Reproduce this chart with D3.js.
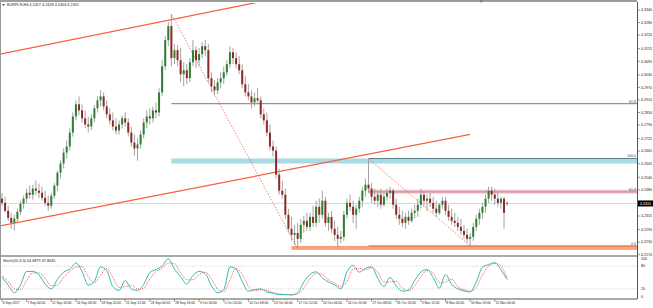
<!DOCTYPE html>
<html>
<head>
<meta charset="utf-8">
<script src="https://cdn.jsdelivr.net/npm/d3@7/dist/d3.min.js"></script>
<style>
  body { margin: 0; background: #fff; }
  svg { display: block; font-family: "Liberation Sans", Arial, sans-serif; }
</style>
</head>
<body>
<svg id="chart" width="653" height="308"></svg>
<script>
// ---- data ----
const symbolTitle = "EURPLN,H4 4.2417 4.2428 4.2404 4.2415";
const stochTitle = "Stoch(10,3,3) 44.6879 47.8045";
const lastPrice = 4.2415;

const priceTicks = [4.3340, 4.3280, 4.3220, 4.3155, 4.3095, 4.3030, 4.2970, 4.2910, 4.2850, 4.2790,
  4.2725, 4.2665, 4.2605, 4.2540, 4.2480, 4.2355, 4.2290, 4.2230, 4.2170];

const timeLabels = ["4 Sep 2017", "7 Sep 04:00", "11 Sep 16:00", "14 Sep 08:00", "18 Sep 20:00",
  "21 Sep 12:00", "26 Sep 00:00", "28 Sep 16:00", "3 Oct 04:00", "5 Oct 20:00", "10 Oct 08:00",
  "13 Oct 00:00", "17 Oct 12:00", "20 Oct 04:00", "24 Oct 16:00", "27 Oct 08:00", "31 Oct 20:00",
  "3 Nov 12:00", "8 Nov 00:00", "10 Nov 16:00", "15 Nov 04:00"];
const timeLabelBars = [0, 8, 16, 24, 32, 40, 48, 56, 64, 72, 80, 88, 96, 104, 112, 120, 128, 136, 144, 152, 160];

// open, high, low, close
const ohlc = [
  [4.2438,4.2466,4.2404,4.2418],[4.2418,4.2447,4.2370,4.2380],[4.2380,4.2404,4.2332,4.2346],[4.2346,4.2370,4.2294,4.2322],
  [4.2322,4.2361,4.2284,4.2342],[4.2342,4.2390,4.2322,4.2375],[4.2375,4.2428,4.2361,4.2414],[4.2414,4.2452,4.2390,4.2438],
  [4.2438,4.2486,4.2418,4.2466],[4.2466,4.2500,4.2438,4.2457],[4.2457,4.2505,4.2433,4.2486],[4.2486,4.2524,4.2457,4.2476],
  [4.2476,4.2510,4.2442,4.2466],[4.2466,4.2495,4.2428,4.2442],[4.2442,4.2476,4.2404,4.2418],[4.2418,4.2452,4.2380,4.2404],
  [4.2404,4.2466,4.2390,4.2452],[4.2452,4.2514,4.2438,4.2500],[4.2500,4.2572,4.2476,4.2562],[4.2562,4.2620,4.2534,4.2606],
  [4.2606,4.2678,4.2582,4.2658],[4.2658,4.2716,4.2630,4.2687],[4.2687,4.2774,4.2668,4.2754],[4.2754,4.2850,4.2735,4.2831],
  [4.2831,4.2908,4.2812,4.2889],[4.2889,4.2927,4.2836,4.2860],[4.2860,4.2889,4.2802,4.2822],[4.2822,4.2860,4.2774,4.2793],
  [4.2793,4.2831,4.2754,4.2783],[4.2783,4.2841,4.2764,4.2822],[4.2822,4.2884,4.2802,4.2870],[4.2870,4.2927,4.2850,4.2908],
  [4.2908,4.2956,4.2879,4.2927],[4.2927,4.2946,4.2860,4.2879],[4.2879,4.2908,4.2822,4.2841],[4.2841,4.2870,4.2793,4.2812],
  [4.2812,4.2850,4.2764,4.2783],[4.2783,4.2822,4.2745,4.2764],[4.2764,4.2812,4.2745,4.2793],[4.2793,4.2836,4.2774,4.2822],
  [4.2822,4.2850,4.2783,4.2802],[4.2802,4.2822,4.2735,4.2754],[4.2754,4.2783,4.2687,4.2706],[4.2706,4.2745,4.2644,4.2678],
  [4.2678,4.2726,4.2620,4.2697],[4.2697,4.2764,4.2678,4.2745],[4.2745,4.2822,4.2726,4.2802],[4.2802,4.2860,4.2774,4.2831],
  [4.2831,4.2870,4.2793,4.2822],[4.2822,4.2879,4.2802,4.2860],[4.2860,4.2898,4.2822,4.2850],[4.2850,4.2966,4.2831,4.2946],
  [4.2946,4.3100,4.2927,4.3071],[4.3071,4.3215,4.3052,4.3196],[4.3196,4.3282,4.3167,4.3263],[4.3263,4.3321,4.3071,4.3110],
  [4.3110,4.3177,4.3081,4.3148],[4.3148,4.3172,4.3071,4.3100],[4.3100,4.3158,4.2994,4.3033],[4.3033,4.3090,4.2975,4.3052],
  [4.3052,4.3081,4.2985,4.3014],[4.3014,4.3110,4.2994,4.3090],[4.3090,4.3196,4.3071,4.3148],[4.3148,4.3167,4.3062,4.3100],
  [4.3100,4.3158,4.3071,4.3129],[4.3129,4.3186,4.3110,4.3167],[4.3167,4.3196,4.3119,4.3148],[4.3148,4.3177,4.2994,4.3014],
  [4.3014,4.3042,4.2946,4.2975],[4.2975,4.3004,4.2932,4.2956],[4.2956,4.3014,4.2937,4.2994],[4.2994,4.3042,4.2966,4.3014],
  [4.3014,4.3071,4.2985,4.3042],[4.3042,4.3100,4.3023,4.3081],[4.3081,4.3167,4.3062,4.3138],[4.3138,4.3158,4.3081,4.3110],
  [4.3110,4.3138,4.3062,4.3081],[4.3081,4.3119,4.3033,4.3052],[4.3052,4.3081,4.2966,4.2985],[4.2985,4.3023,4.2927,4.2946],
  [4.2946,4.2985,4.2908,4.2927],[4.2927,4.2956,4.2870,4.2898],[4.2898,4.2946,4.2879,4.2918],[4.2918,4.2966,4.2889,4.2908],
  [4.2908,4.2927,4.2822,4.2841],[4.2841,4.2870,4.2793,4.2812],[4.2812,4.2850,4.2735,4.2754],[4.2754,4.2793,4.2668,4.2687],
  [4.2687,4.2716,4.2639,4.2668],[4.2668,4.2687,4.2534,4.2553],[4.2553,4.2582,4.2457,4.2476],[4.2476,4.2524,4.2438,4.2457],
  [4.2457,4.2486,4.2342,4.2361],[4.2361,4.2390,4.2274,4.2294],[4.2294,4.2351,4.2236,4.2265],[4.2265,4.2313,4.2217,4.2274],
  [4.2274,4.2322,4.2198,4.2246],[4.2246,4.2342,4.2226,4.2313],[4.2313,4.2356,4.2274,4.2332],[4.2332,4.2370,4.2284,4.2303],
  [4.2303,4.2370,4.2284,4.2351],[4.2351,4.2404,4.2303,4.2322],[4.2322,4.2428,4.2303,4.2399],[4.2399,4.2438,4.2322,4.2361],
  [4.2361,4.2476,4.2342,4.2428],[4.2428,4.2447,4.2303,4.2322],[4.2322,4.2370,4.2284,4.2351],[4.2351,4.2380,4.2274,4.2294],
  [4.2294,4.2332,4.2236,4.2265],[4.2265,4.2303,4.2198,4.2246],[4.2246,4.2284,4.2226,4.2255],[4.2255,4.2380,4.2236,4.2361],
  [4.2361,4.2438,4.2342,4.2418],[4.2418,4.2457,4.2380,4.2399],[4.2399,4.2428,4.2322,4.2361],[4.2361,4.2409,4.2294,4.2390],
  [4.2390,4.2447,4.2370,4.2428],[4.2428,4.2495,4.2399,4.2476],[4.2476,4.2534,4.2447,4.2505],[4.2505,4.2630,4.2466,4.2486],
  [4.2486,4.2514,4.2418,4.2447],[4.2447,4.2486,4.2409,4.2428],[4.2428,4.2476,4.2399,4.2457],[4.2457,4.2486,4.2390,4.2409],
  [4.2409,4.2466,4.2399,4.2447],[4.2447,4.2486,4.2428,4.2466],[4.2466,4.2495,4.2438,4.2476],[4.2476,4.2486,4.2390,4.2409],
  [4.2409,4.2438,4.2342,4.2361],[4.2361,4.2399,4.2313,4.2342],[4.2342,4.2380,4.2303,4.2322],[4.2322,4.2370,4.2294,4.2351],
  [4.2351,4.2380,4.2313,4.2332],[4.2332,4.2390,4.2322,4.2370],[4.2370,4.2409,4.2342,4.2380],[4.2380,4.2438,4.2351,4.2409],
  [4.2409,4.2486,4.2390,4.2457],[4.2457,4.2476,4.2399,4.2428],[4.2428,4.2457,4.2380,4.2438],[4.2438,4.2466,4.2399,4.2418],
  [4.2418,4.2447,4.2370,4.2390],[4.2390,4.2428,4.2351,4.2370],[4.2370,4.2418,4.2361,4.2409],[4.2409,4.2447,4.2390,4.2428],
  [4.2428,4.2447,4.2361,4.2380],[4.2380,4.2409,4.2332,4.2351],[4.2351,4.2390,4.2313,4.2332],[4.2332,4.2370,4.2303,4.2322],
  [4.2322,4.2351,4.2284,4.2303],[4.2303,4.2342,4.2265,4.2284],[4.2284,4.2313,4.2246,4.2265],[4.2265,4.2294,4.2226,4.2246],
  [4.2246,4.2274,4.2212,4.2255],[4.2255,4.2322,4.2236,4.2303],[4.2303,4.2361,4.2284,4.2342],[4.2342,4.2390,4.2313,4.2370],
  [4.2370,4.2418,4.2342,4.2399],[4.2399,4.2457,4.2370,4.2438],[4.2438,4.2495,4.2418,4.2476],[4.2476,4.2495,4.2428,4.2457],
  [4.2457,4.2486,4.2409,4.2438],[4.2438,4.2476,4.2399,4.2418],[4.2418,4.2447,4.2390,4.2438],[4.2438,4.2447,4.2294,4.2370],
  [4.2417,4.2428,4.2404,4.2415]
];

// stochastic, one reading every second bar
const stochMain = [51,30,10,30,66,66,57,33,20,45,64,72,88,66,30,40,78,68,26,16,42,20,16,32,63,71,80,99,72,52,
  33,55,66,60,28,10,18,78,72,40,14,18,20,12,9,5,5,4,10,38,58,65,49,38,31,20,65,82,64,74,
  78,48,26,50,28,14,17,42,64,71,50,22,58,32,20,15,12,38,77,84,89,70,44.7];
const stochSignal = [55,40,20,18,42,62,62,48,28,30,50,66,78,78,52,36,56,74,50,24,26,30,20,22,46,66,74,88,86,62,
  44,44,58,64,46,20,12,44,74,58,28,15,18,16,10,7,5,5,7,22,46,61,58,44,35,26,40,72,74,70,
  76,64,38,38,40,22,15,28,52,68,62,36,38,46,26,18,14,24,56,80,87,80,47.8];
const stochLevels = [80, 20];
const stochTicks = [100, 80, 20, 0];

// drawn objects: [bar, price]
const channelUpper = [[0, 4.3131], [80, 4.3368]];
const channelLower = [[0, 4.2310], [152, 4.2745]];
const fibA = [[55, 4.3321], [96, 4.2198]];
const fibB = [[119, 4.2630], [152, 4.2212]];
const zoneStart = [55, 119, 94];
const zoneTop = [4.2630, 4.2481, 4.2212];
const zoneBottom = [4.2606, 4.2462, 4.2193];

// ---- layout ----
const svg = d3.select('#chart');
const plotRight = 637, mainTop = 3, mainBottom = 255, subBottom = 299;
const axisFont = 3.6;

const x = d3.scaleLinear().domain([0, 164]).range([2, 507.1]);
const y = d3.scaleLinear().domain([4.2170, 4.3340]).range([254.7, 10]);
const ys = d3.scaleLinear().domain([0, 100]).range([296.5, 258.5]);

svg.append('rect').attr('width', 653).attr('height', 308).attr('fill', '#fff');
svg.append('rect').attr('x', 0).attr('y', 0).attr('width', plotRight).attr('height', 2).attr('fill', '#9c9c9c');

svg.append('clipPath').attr('id', 'mainClip')
  .append('rect').attr('x', 0).attr('y', mainTop).attr('width', plotRight).attr('height', mainBottom - mainTop);
const main = svg.append('g').attr('clip-path', 'url(#mainClip)');

// zones
const zoneFill = ['#a9dbe4', '#f5c3cc', '#f7a27c'];
zoneStart.forEach((s, i) => {
  main.append('rect')
    .attr('x', x(s)).attr('y', y(zoneTop[i]))
    .attr('width', plotRight - x(s)).attr('height', y(zoneBottom[i]) - y(zoneTop[i]))
    .attr('fill', zoneFill[i]);
});

// current price line
main.append('line').attr('x1', 0).attr('x2', plotRight)
  .attr('y1', y(lastPrice)).attr('y2', y(lastPrice))
  .attr('stroke', '#c8c8c8').attr('stroke-width', 0.7);

// fibo levels
const fibLine = (f, level) => f[1][1] + level * (f[0][1] - f[1][1]);
const fibLevels = [
  {fib: fibA, lv: 0.618, txt: '61.8', color: '#7a7a7a'},
  {fib: fibB, lv: 1.0, txt: '100.0', color: '#5d8187'},
  {fib: fibB, lv: 0.618, txt: '61.8', color: '#c98090'},
  {fib: fibB, lv: 0.0, txt: '0.0', color: '#e8602c'}
];
fibLevels.forEach(d => {
  const p = fibLine(d.fib, d.lv);
  main.append('line').attr('x1', x(d.fib[0][0])).attr('x2', plotRight)
    .attr('y1', y(p)).attr('y2', y(p))
    .attr('stroke', d.color).attr('stroke-width', 1);
  svg.append('text').attr('x', plotRight - 1).attr('y', y(p) - 1)
    .attr('text-anchor', 'end').attr('font-size', axisFont).attr('fill', '#444').text(d.txt);
});

// fibo trend lines (dotted)
[fibA, fibB].forEach(f => {
  main.append('line')
    .attr('x1', x(f[0][0])).attr('y1', y(f[0][1]))
    .attr('x2', x(f[1][0])).attr('y2', y(f[1][1]))
    .attr('stroke', '#f0644a').attr('stroke-width', 0.8).attr('stroke-dasharray', '1.5,1.5');
});

// channel lines
const lineAt = (c, b) => c[0][1] + (c[1][1] - c[0][1]) * (b - c[0][0]) / (c[1][0] - c[0][0]);
const bLeft = x.invert(0), bRight = x.invert(plotRight);
main.append('line')
  .attr('x1', 0).attr('y1', y(lineAt(channelUpper, bLeft)))
  .attr('x2', plotRight).attr('y2', y(lineAt(channelUpper, bRight)))
  .attr('stroke', '#f5603e').attr('stroke-width', 1.2);
main.append('line')
  .attr('x1', 0).attr('y1', y(lineAt(channelLower, bLeft)))
  .attr('x2', x(channelLower[1][0])).attr('y2', y(channelLower[1][1]))
  .attr('stroke', '#f5603e').attr('stroke-width', 1.2);

// candles
const candle = main.selectAll('g.candle').data(ohlc).enter().append('g').attr('class', 'candle');
candle.append('line')
  .attr('x1', (d, i) => x(i)).attr('x2', (d, i) => x(i))
  .attr('y1', d => y(d[1])).attr('y2', d => y(d[2]))
  .attr('stroke', '#a3a3a3').attr('stroke-width', 1);
candle.append('rect')
  .attr('x', (d, i) => x(i) - 1).attr('width', 2)
  .attr('y', d => y(Math.max(d[0], d[3])))
  .attr('height', d => Math.max(0.8, Math.abs(y(d[0]) - y(d[3]))))
  .attr('fill', d => d[3] >= d[0] ? '#2e7f30' : '#8c2a2a');

// ---- frame & axes ----
svg.append('line').attr('x1', plotRight + 0.5).attr('x2', plotRight + 0.5).attr('y1', 2).attr('y2', subBottom)
  .attr('stroke', '#555').attr('stroke-width', 1);
svg.append('line').attr('x1', 0).attr('x2', plotRight).attr('y1', 256).attr('y2', 256)
  .attr('stroke', '#555').attr('stroke-width', 1.2);
svg.append('line').attr('x1', 0).attr('x2', plotRight).attr('y1', subBottom).attr('y2', subBottom)
  .attr('stroke', '#555').attr('stroke-width', 1);
svg.append('line').attr('x1', 0.5).attr('x2', 0.5).attr('y1', 2).attr('y2', subBottom)
  .attr('stroke', '#999').attr('stroke-width', 1);

const pAxis = svg.append('g').attr('font-size', axisFont).attr('fill', '#222');
priceTicks.forEach(p => {
  pAxis.append('line').attr('x1', plotRight).attr('x2', plotRight + 3).attr('y1', y(p)).attr('y2', y(p))
    .attr('stroke', '#555').attr('stroke-width', 0.6);
  pAxis.append('text').attr('x', plotRight + 4).attr('y', y(p) + 1.3).text(p.toFixed(4));
});
svg.append('rect').attr('x', plotRight + 1).attr('y', y(lastPrice) - 3).attr('width', 15).attr('height', 6).attr('fill', '#000');
svg.append('text').attr('x', plotRight + 3).attr('y', y(lastPrice) + 1.3).attr('font-size', axisFont).attr('fill', '#fff')
  .text(lastPrice.toFixed(4));

// time axis
const tAxis = svg.append('g').attr('font-size', 3.3).attr('fill', '#222');
timeLabelBars.forEach((b, i) => {
  tAxis.append('line').attr('x1', x(b)).attr('x2', x(b)).attr('y1', subBottom).attr('y2', subBottom + 3)
    .attr('stroke', '#555').attr('stroke-width', 0.6);
  tAxis.append('text').attr('x', x(b) + 0.8).attr('y', 304).text(timeLabels[i]);
});

// ---- stochastic panel ----
stochLevels.forEach(l => {
  svg.append('line').attr('x1', 0).attr('x2', plotRight).attr('y1', ys(l)).attr('y2', ys(l))
    .attr('stroke', '#bdbdbd').attr('stroke-width', 0.6).attr('stroke-dasharray', '1,1');
});
stochTicks.forEach(t => {
  svg.append('text').attr('x', plotRight + 4).attr('y', ys(t) + 1.3).attr('font-size', axisFont).attr('fill', '#222').text(t);
});
const stochBars = d3.range(0, 165, 2);
const sLine = d3.line().x((d, i) => x(stochBars[i])).y(d => ys(d)).curve(d3.curveMonotoneX);
svg.append('path').datum(stochSignal).attr('d', sLine).attr('fill', 'none')
  .attr('stroke', '#ff3030').attr('stroke-width', 0.8).attr('stroke-dasharray', '1,1');
svg.append('path').datum(stochMain).attr('d', sLine).attr('fill', 'none')
  .attr('stroke', '#33b8b0').attr('stroke-width', 1);

// ---- titles ----
svg.append('path').attr('d', 'M2,4 L5,4 L3.5,6 Z').attr('fill', '#555');
svg.append('text').attr('x', 7).attr('y', 6.3).attr('font-size', 3.8).attr('fill', '#222').text(symbolTitle);
svg.append('text').attr('x', 3).attr('y', 262.3).attr('font-size', 3.8).attr('fill', '#222').text(stochTitle);
svg.append('path').attr('d', 'M479,0 L483,0 L481,3 Z').attr('fill', '#808080');
</script>
</body>
</html>
